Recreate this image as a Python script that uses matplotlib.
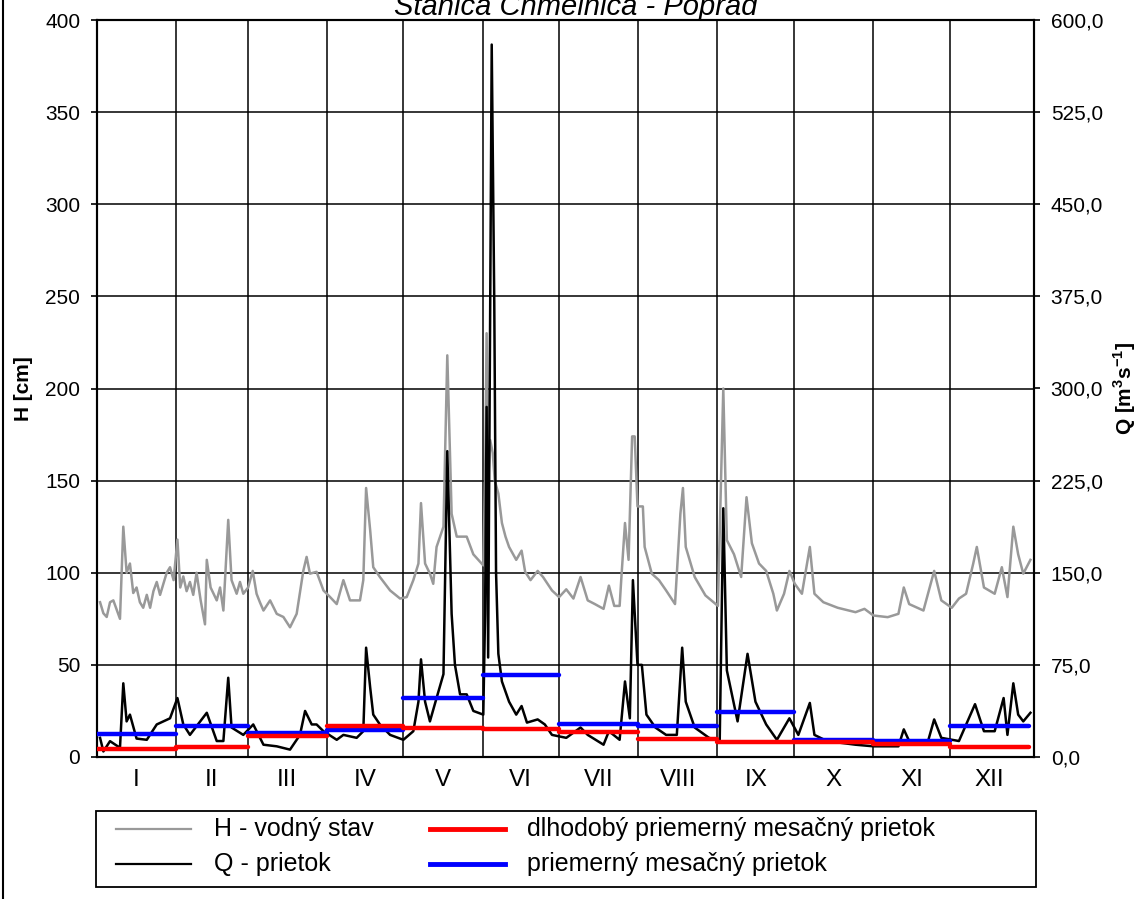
import matplotlib
matplotlib.use("Agg")
import matplotlib.pyplot as plt
from matplotlib.lines import Line2D
from matplotlib.patches import Rectangle
from matplotlib.ticker import FixedLocator, FuncFormatter

plt.rcParams['font.family'] = ['Liberation Sans', 'DejaVu Sans']
plt.rcParams['mathtext.fontset'] = 'custom'
plt.rcParams['mathtext.rm'] = 'Liberation Sans'
plt.rcParams['mathtext.bf'] = 'Liberation Sans:bold'

# ---------------- data ----------------
title = "Stanica Chmelnica - Poprad"
months = ["I", "II", "III", "IV", "V", "VI", "VII", "VIII", "IX", "X", "XI", "XII"]
month_bounds = [0, 31, 59, 90, 120, 151, 181, 212, 243, 273, 304, 334, 365]

# H - water level [cm] (day of year, value)
h_day = [1.2, 2.5, 3.8, 5.1, 6.4, 7.7, 9.0, 10.3, 11.6, 12.9, 14.2, 15.5, 16.8, 18.1, 19.5, 20.8,
         22.1, 23.4, 24.7, 26.0, 27.3, 28.6, 30.0, 31.5, 32.6, 33.8, 35.1, 36.4, 37.7, 39.0, 40.6,
         42.3, 43.0, 44.5, 46.9, 48.2, 49.5, 51.4, 52.7, 54.7, 56.0, 57.3, 59.2, 61.0, 62.5, 63.8,
         65.2, 67.8, 70.4, 73.0, 75.6, 78.2, 80.8, 82.1, 83.4, 86.0, 88.7, 91.3, 93.9, 96.5, 99.1,
         103.0, 104.3, 105.4, 107.0, 108.2, 110.8, 114.8, 118.7, 121.3, 123.9, 125.9, 126.9, 128.5,
         130.4, 131.7, 133.0, 135.7, 137.2, 138.9, 140.9, 144.8, 147.4, 151.3, 152.0, 152.6, 153.2,
         154.0, 155.0, 155.8, 157.2, 158.6, 160.0, 161.4, 164.2, 166.3, 167.7, 169.8, 172.6, 174.7,
         178.2, 181.0, 183.8, 186.6, 189.4, 192.2, 195.0, 198.4, 200.5, 202.6, 204.7, 205.4, 206.8,
         208.2, 209.6, 210.6, 211.7, 213.8, 214.5, 217.3, 220.1, 222.9, 226.4, 228.5, 229.5, 230.6,
         234.1, 238.3, 243.2, 245.3, 246.7, 249.5, 252.3, 254.4, 256.5, 259.3, 262.1, 264.9, 266.3,
         269.1, 271.2, 273.3, 276.1, 279.2, 281.0, 284.5, 290.1, 297.1, 300.6, 304.1, 309.7, 313.9,
         316.0, 318.1, 323.7, 327.9, 330.7, 334.8, 337.6, 340.4, 343.2, 344.6, 347.4, 351.6, 354.4,
         356.6, 358.9, 360.8, 362.8, 365.6]
h_val = [84, 78, 76, 84, 85, 80, 75, 125, 100, 105, 89, 92, 84, 81, 88, 81,
         90, 95, 88, 94, 100, 103, 96, 118, 92, 98, 90, 95, 88, 100, 85,
         72, 107, 92, 85, 92, 79.5, 128.7, 96, 88.6, 95, 88.6, 92, 101, 88.6, 84,
         79.5, 85, 77.7, 76, 70.4, 77.7, 101, 108.6, 99.5, 100.5, 90.4, 86.8, 83, 96, 85,
         85, 96, 146, 123, 103, 97.7, 90.4, 86, 86.8, 96, 105, 137.8, 105,
         99.5, 94, 114, 125, 218, 132, 119.6, 119.6, 110, 104, 150, 230, 150,
         172, 165, 150, 143, 127, 119.6, 114, 107, 112, 100.5, 96, 101, 97.7,
         90.4, 86.8, 91, 86, 97.7, 85, 83, 80.4, 93, 82, 82, 97.7, 127,
         107, 174, 174, 136, 136, 114, 99.5, 96, 90.4, 83, 132, 146, 114,
         97.7, 87.7, 82, 200, 117.7, 110, 97.7, 141, 116, 105, 101, 88.6, 79.5,
         88.6, 101, 94, 88.6, 114, 88.6, 84, 81, 78.6, 80.4, 76.8, 75.9, 77.7,
         92, 83, 79.5, 101, 85, 81, 86, 88.6, 105, 114, 92, 88.6, 103,
         86.8, 125, 110, 99.5, 107]

# Q - discharge [m3/s] (day of year, value)
q_day = [1.2, 2.5, 5.1, 9.0, 10.3, 11.6, 12.9, 15.5, 19.5, 23.4, 28.6, 31.5, 33.8, 36.4, 43.0,
         46.9, 49.5, 51.4, 52.7, 57.3, 61.2, 65.2, 70.4, 75.6, 79.5, 81.5, 84.1, 86.0, 88.7, 93.9,
         96.5, 101.7, 104.3, 105.4, 107.0, 108.2, 110.8, 114.8, 120.0, 123.9, 125.9, 126.9, 128.5,
         130.4, 133.0, 135.7, 137.2, 138.9, 140.2, 142.2, 144.8, 147.4, 151.3, 152.0, 152.6, 153.2,
         154.6, 155.6, 156.3, 157.2, 158.6, 161.4, 164.2, 166.3, 168.4, 172.6, 175.4, 178.2, 183.8,
         189.4, 192.2, 198.4, 200.5, 204.7, 206.8, 208.7, 209.9, 211.7, 213.4, 215.2, 218.7, 222.9,
         227.1, 229.2, 230.6, 234.1, 239.7, 243.9, 245.3, 246.7, 250.9, 254.8, 257.9, 262.1, 266.3,
         271.2, 274.7, 279.2, 281.0, 285.9, 297.1, 304.1, 313.9, 316.0, 318.1, 325.1, 327.9, 330.7,
         337.6, 343.9, 347.4, 351.6, 355.1, 356.6, 358.9, 360.8, 362.8, 365.6]
q_val = [15.6, 4.5, 12.9, 7.5, 60, 29, 34.5, 15, 14, 26.5, 31.5, 48, 26.5, 18, 36,
         13, 13, 64.5, 24, 18, 26.5, 10, 8.7, 6, 18, 37.5, 26.5, 26.5, 21, 14,
         18, 15.6, 21, 89, 56.5, 34.5, 26.5, 18, 14, 21, 45, 79.5, 45,
         29, 48, 67.5, 249, 116.5, 75, 51, 51, 37.5, 34.5, 116.5, 285, 81,
         580, 370, 150, 84, 61.5, 45, 34.5, 41.5, 28, 30.6, 26.5, 18, 15.6,
         24, 18, 10, 21, 14, 61.5, 31.5, 144, 75, 75, 34.5, 24, 18,
         18, 89, 45, 24, 15.6, 13, 202.5, 70.5, 29, 84, 45, 26.5, 14,
         31.5, 18, 44, 18, 13, 10, 8.7, 8.7, 22.5, 13, 10, 30.6, 15.6,
         13, 43, 21, 21, 48, 18, 60, 34.5, 29, 36]

# monthly mean discharge of the year and long-term monthly mean [m3/s]
q_month_mean = [18.9, 25.0, 19.6, 22.0, 48.3, 67.0, 26.5, 25.0, 36.6, 14.2, 12.8, 25.0]
q_month_longterm = [6.8, 8.5, 17.0, 25.0, 23.7, 23.2, 20.5, 15.0, 12.3, 12.3, 10.6, 8.5]

h_ticks = [0, 50, 100, 150, 200, 250, 300, 350, 400]
q_ticks = [0, 75, 150, 225, 300, 375, 450, 525, 600]

legend_labels = ["H - vodný stav", "Q - prietok",
                 "dlhodobý priemerný mesačný prietok", "priemerný mesačný prietok"]

# ---------------- figure ----------------
W, H = 1140, 899
fig = plt.figure(figsize=(W / 100, H / 100), dpi=100)
ax = fig.add_axes([97 / W, 1 - 757 / H, 937 / W, 737 / H])
ax2 = ax.twinx()

GRAY = "#999999"
RED = "#FF0000"
BLUE = "#0000FF"

ax.plot(h_day, h_val, color=GRAY, lw=1.8, zorder=2)
ax2.plot(q_day, q_val, color="black", lw=1.8, zorder=3)
for i in range(12):
    ax2.plot([month_bounds[i], month_bounds[i + 1]], [q_month_mean[i]] * 2,
             color=BLUE, lw=3.2, solid_capstyle="round", zorder=4)
for i in range(12):
    ax2.plot([month_bounds[i], month_bounds[i + 1]], [q_month_longterm[i]] * 2,
             color=RED, lw=3.2, solid_capstyle="round", zorder=5)

ax.set_xlim(0, 367)
ax.set_ylim(0, 400)
ax2.set_ylim(0, 600)

ax.set_yticks(h_ticks)
ax2.set_yticks(q_ticks)
ax2.yaxis.set_major_formatter(FuncFormatter(lambda v, p: f"{v:.1f}".replace(".", ",")))

ax.xaxis.set_major_locator(FixedLocator(month_bounds[1:-1]))
ax.xaxis.set_minor_locator(FixedLocator([(month_bounds[i] + month_bounds[i + 1]) / 2 for i in range(12)]))
ax.set_xticklabels([], minor=False)
ax.set_xticklabels(months, minor=True)
ax.tick_params(axis="x", which="both", length=0)
ax.tick_params(axis="x", which="minor", labelsize=17.5, pad=9)
ax.tick_params(axis="y", direction="out", length=4, width=1.2, labelsize=15, pad=8)
ax2.tick_params(axis="y", direction="out", length=4, width=1.2, labelsize=15, pad=8)

ax.grid(True, which="major", color="black", lw=1.1)
ax.set_axisbelow(True)
for a in (ax, ax2):
    for s in a.spines.values():
        s.set_linewidth(1.5)

ax.set_ylabel("H [cm]", fontsize=15, fontweight="bold", labelpad=9)
ax2.set_ylabel(r"Q [m$^{\mathbf{3}}$s$^{\mathbf{-1}}$]", fontsize=15, fontweight="bold", labelpad=6)

fig.text(576 / W, 1 - 15 / H, title, ha="center", va="baseline", fontsize=21, style="italic")

# left frame line of the figure
fig.add_artist(Line2D([3 / W, 3 / W], [0, 1], transform=fig.transFigure, color="black", lw=1.5))

# ---------------- legend (manual) ----------------
def fx(x):
    return x / W

def fy(y):
    return 1 - y / H

fig.add_artist(Rectangle((fx(96), fy(887)), fx(1036) - fx(96), fy(811) - fy(887),
                         transform=fig.transFigure, fill=False, ec="black", lw=1.3))
rows = [829, 864]
items = [(116, 191, 214, rows[0], GRAY, 1.6, legend_labels[0]),
         (116, 191, 214, rows[1], "black", 1.6, legend_labels[1]),
         (430, 505, 527, rows[0], RED, 3.5, legend_labels[2]),
         (430, 505, 527, rows[1], BLUE, 3.5, legend_labels[3])]
for x0, x1, xt, yy, c, lw, lab in items:
    fig.add_artist(Line2D([fx(x0), fx(x1)], [fy(yy), fy(yy)], transform=fig.transFigure, color=c, lw=lw))
    fig.text(fx(xt), fy(yy), lab, ha="left", va="center", fontsize=18)

fig.savefig("out.png", dpi=100)
